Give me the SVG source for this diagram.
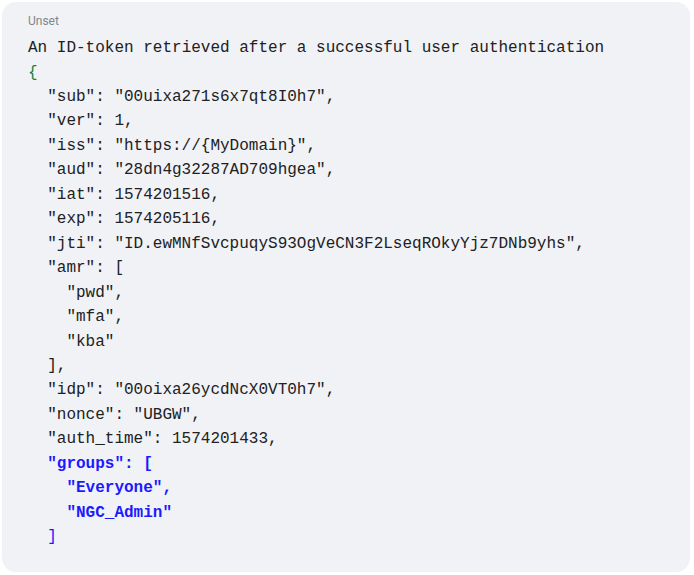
<svg xmlns="http://www.w3.org/2000/svg" width="694" height="575" viewBox="0 0 694 575">
<style>
.c{font-family:"Liberation Mono","DejaVu Sans Mono",monospace;font-size:16px;fill:#202124;white-space:pre}
.g{fill:#188038}
.b{fill:#1a1aff;font-weight:bold}
.bn{fill:#1a1aff}
</style>
<rect x="2" y="2" width="688" height="570" rx="14" fill="#f1f2f5"/>
<text x="28" y="25" font-family="Roboto,'Liberation Sans',sans-serif" font-size="12" fill="#80868b">Unset</text>
<g class="c">
<text x="28" y="52">An ID-token retrieved after a successful user authentication</text>
<text x="28" y="76.5" class="c g">{</text>
<text x="47.2" y="101">"sub": "00uixa271s6x7qt8I0h7",</text>
<text x="47.2" y="125.4">"ver": 1,</text>
<text x="47.2" y="149.9">"iss": "https://{MyDomain}",</text>
<text x="47.2" y="174.3">"aud": "28dn4g32287AD709hgea",</text>
<text x="47.2" y="198.8">"iat": 1574201516,</text>
<text x="47.2" y="223.2">"exp": 1574205116,</text>
<text x="47.2" y="247.7">"jti": "ID.ewMNfSvcpuqyS93OgVeCN3F2LseqROkyYjz7DNb9yhs",</text>
<text x="47.2" y="272.1">"amr": [</text>
<text x="66.4" y="296.6">"pwd",</text>
<text x="66.4" y="321">"mfa",</text>
<text x="66.4" y="345.5">"kba"</text>
<text x="47.2" y="369.9">],</text>
<text x="47.2" y="394.4">"idp": "00oixa26ycdNcX0VT0h7",</text>
<text x="47.2" y="418.8">"nonce": "UBGW",</text>
<text x="47.2" y="443.3">"auth_time": 1574201433,</text>
<text x="47.2" y="467.7" class="c b">"groups": [</text>
<text x="66.4" y="492.2" class="c b">"Everyone",</text>
<text x="66.4" y="516.6" class="c b">"NGC_Admin"</text>
<text x="47.2" y="541.1" class="c bn">]</text>
</g>
</svg>
